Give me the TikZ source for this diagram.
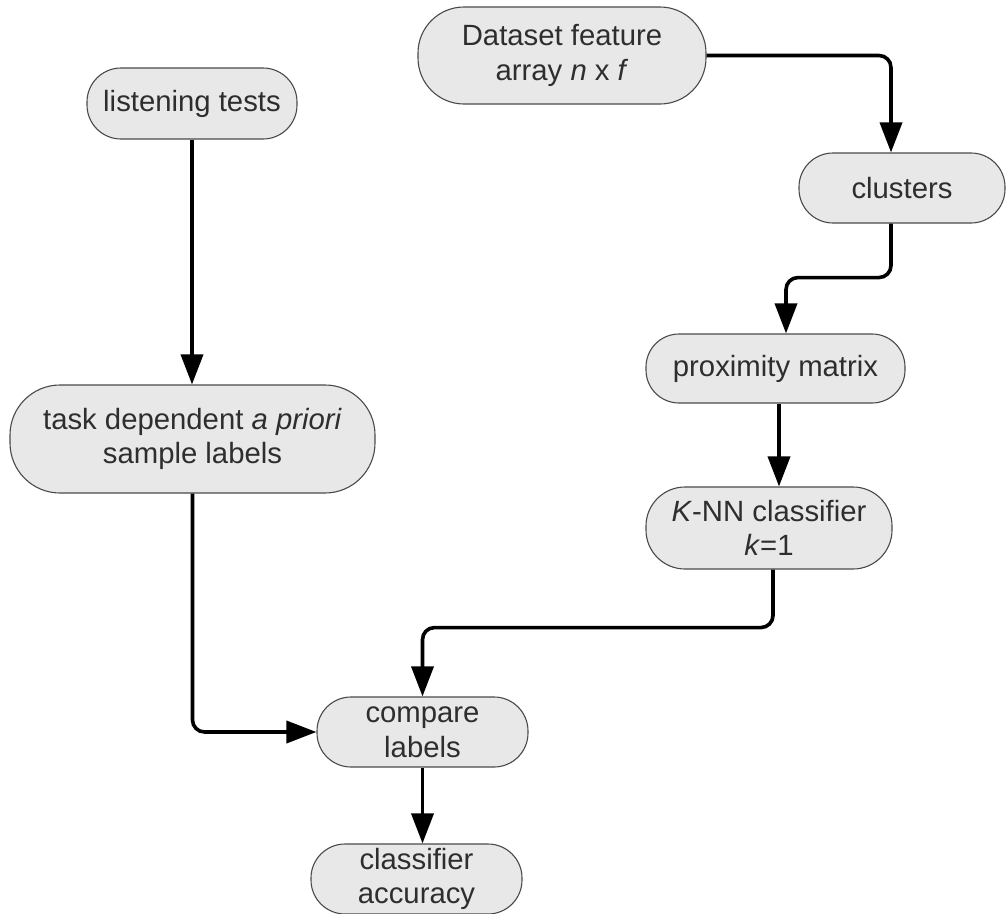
\documentclass[tikz,border=0pt]{standalone}
\usepackage{fontspec}
\setmainfont{Liberation Sans}
\usetikzlibrary{arrows.meta}
\definecolor{boxfill}{HTML}{E8E8E8}
\definecolor{boxline}{HTML}{4A4A4A}
\definecolor{txt}{HTML}{2E2E2E}
\begin{document}
\begin{tikzpicture}[x=1pt,y=-1pt,
  box/.style={draw=boxline, line width=1.1pt, fill=boxfill, text=txt, align=center, inner sep=0pt,
    font=\fontsize{29.3}{34.5}\selectfont},
  flow/.style={line width=3.6pt, -{Triangle[width=22pt,length=30pt]}, rounded corners=12pt}
]
\useasboundingbox (0,0) rectangle (1006,913);

\node[box, minimum width=288pt, minimum height=97pt, rounded corners=46pt] (data) at (562,55.5)
  {Dataset feature\\array \textit{n} x \textit{f}};
\node[box, minimum width=210pt, minimum height=71pt, rounded corners=34pt] (listen) at (192,103.5)
  {listening tests};
\node[box, minimum width=206pt, minimum height=70pt, rounded corners=34pt] (clusters) at (902,188)
  {clusters};
\node[box, minimum width=259pt, minimum height=69pt, rounded corners=33pt] (prox) at (775.5,368.5)
  {proximity matrix};
\node[box, minimum width=365pt, minimum height=108pt, rounded corners=50pt] (task) at (192.5,439)
  {task dependent \textit{a priori}\\sample labels};
\node[box, minimum width=246pt, minimum height=82pt, rounded corners=39pt] (knn) at (769,528)
  {\textit{K}-NN classifier\\\textit{k}=1};
\node[box, minimum width=211pt, minimum height=70pt, rounded corners=34pt] (compare) at (422.5,732)
  {compare\\labels};
\node[box, minimum width=211pt, minimum height=70pt, rounded corners=34pt] (accuracy) at (416.5,879)
  {classifier\\accuracy};

\draw[flow] (data.east) -| ([xshift=-11pt]clusters.north);
\draw[flow] ([xshift=-11pt]clusters.south) -- ++(0,54) -| ([xshift=10.5pt]prox.north);
\draw[flow] ([xshift=3.5pt]prox.south) -- ([xshift=3.5pt]prox.south |- knn.north);
\draw[flow] (listen.south) -- (listen.south |- task.north);
\draw[flow] ([xshift=4pt]knn.south) -- ++(0,58) -| (compare.north);
\draw[flow] (task.south) |- (compare.west);
\draw[flow] (compare.south) -- (compare.south |- accuracy.north);
\end{tikzpicture}
\end{document}
